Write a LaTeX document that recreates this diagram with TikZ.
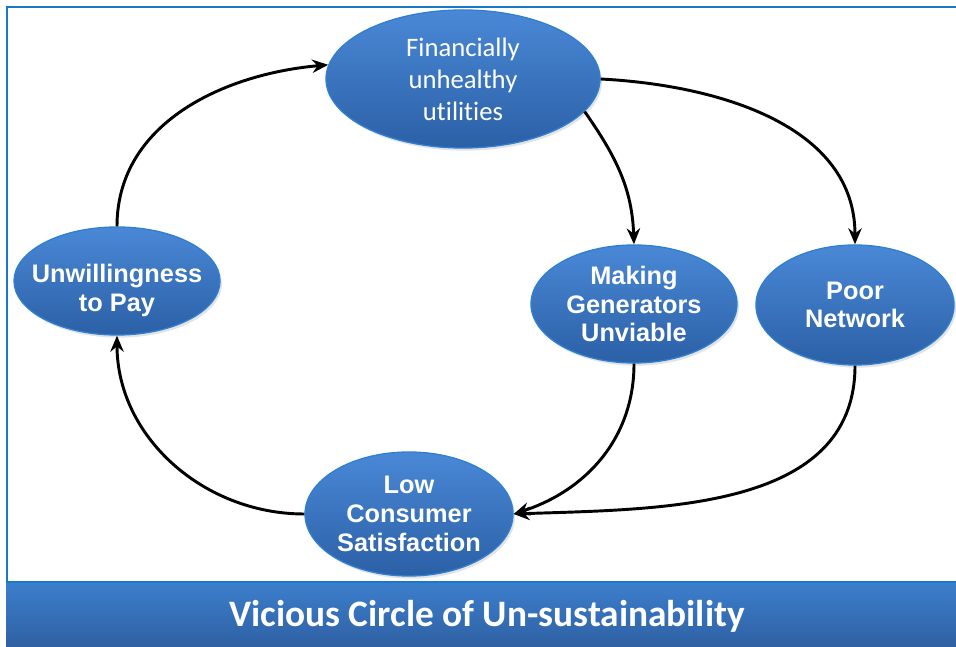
\documentclass[tikz,border=0pt]{standalone}
\usepackage{fontspec}
\setmainfont{Liberation Sans}
\newfontfamily\calibri[Ligatures=NoCommon]{Carlito}
\usetikzlibrary{shapes.geometric,arrows.meta,shadows}
\definecolor{frameblue}{HTML}{1A78C8}
\definecolor{elltop}{HTML}{4A88D6}
\definecolor{ellbot}{HTML}{2B60A6}
\definecolor{elledge}{HTML}{2F7FD2}
\definecolor{bantop}{HTML}{3C7ECC}
\definecolor{banbot}{HTML}{2F61A3}
\tikzset{
  bubble/.style={ellipse, inner sep=0pt, draw=elledge, line width=1pt,
    top color=elltop, bottom color=ellbot,
    drop shadow={opacity=0.22, shadow xshift=1.5pt, shadow yshift=-2pt}},
  bubbletext/.style={text=white, align=center, inner sep=0pt,
    font=\fontsize{19}{21.5}\selectfont\bfseries},
  toptext/.style={text=white, align=center, inner sep=0pt,
    font=\calibri\fontsize{20}{24}\selectfont},
  flow/.style={-{Stealth[length=12pt,width=10pt]}, line width=2.2pt, black}
}
\begin{document}
\begin{tikzpicture}[x=0.75pt,y=0.75pt]
\useasboundingbox (0,0) rectangle (956,646);
% frame
\draw[frameblue, line width=1.8pt] (956,639) -- (7,639) -- (7,64) -- (956,64);
% banner
\shade[top color=bantop, bottom color=banbot] (6,0) rectangle (956,63);
\node[text=white, font=\calibri\fontsize{28}{32}\selectfont\bfseries] (title) at (487,30) {Vicious Circle of Un-sustainability};
% nodes
\node[bubble, minimum width=205.5pt, minimum height=103.5pt] (fin) at (463,567) {};
\node[toptext] (fintext) at (fin) {Financially\\unhealthy\\utilities};
\node[bubble, minimum width=154.5pt, minimum height=81pt] (unw) at (117,365) {};
\node[bubbletext] (unwtext) at ([yshift=-7]unw.center) {Unwillingness\\to Pay};
\node[bubble, minimum width=154.5pt, minimum height=88.5pt] (mak) at (634,342) {};
\node[bubbletext] (maktext) at (mak) {Making\\Generators\\Unviable};
\node[bubble, minimum width=148.5pt, minimum height=90pt] (poor) at (855,341) {};
\node[bubbletext] (poortext) at (poor) {Poor\\Network};
\node[bubble, minimum width=156pt, minimum height=93pt] (low) at (409,132) {};
\node[bubbletext] (lowtext) at (low) {Low\\Consumer\\Satisfaction};
% connectors
\draw[flow] (unw.north) to[out=90, in=185] (fin.174);
\draw[flow] (fin.-15) to[out=-55, in=92] (mak.north);
\draw[flow] (fin.east) to[out=-3, in=90] (poor.north);
\draw[flow] (mak.south) to[out=-90, in=18] (low.east);
\draw[flow] (poor.south) to[out=-90, in=2] (low.east);
\draw[flow] (low.west) to[out=180, in=-90] (unw.south);
\end{tikzpicture}
\end{document}
